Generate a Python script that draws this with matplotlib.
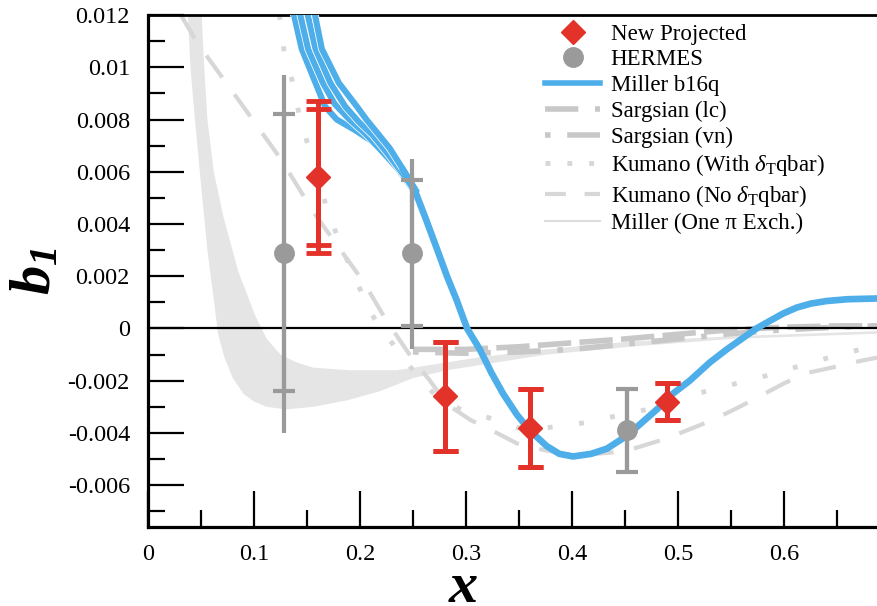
"""
b1 of the deuteron vs x: projected points, HERMES data and model curves
"""
import numpy as np
import matplotlib.pyplot as plt
import matplotlib.patheffects as pe
from matplotlib.lines import Line2D
from matplotlib.ticker import FixedLocator, FormatStrFormatter

plt.rcParams['font.family'] = 'Liberation Serif'
plt.rcParams['mathtext.fontset'] = 'custom'
plt.rcParams['mathtext.rm'] = 'Liberation Serif'
plt.rcParams['mathtext.it'] = 'Liberation Serif:italic'
plt.rcParams['mathtext.bf'] = 'Liberation Serif:bold:italic'
plt.rcParams['axes.unicode_minus'] = False

#######
# data
#######
# new projected points (stat and total errors)
proj_x = [0.16, 0.28, 0.36, 0.49]
proj_y = [0.0058, -0.0026, -0.0038, -0.0028]
proj_stat = [0.0026, 0.0021, 0.0015, 0.0007]
proj_tot = [0.0029, 0.0021, 0.0015, 0.0007]

# HERMES
herm_x = [0.128, 0.249, 0.452]
herm_y = [0.0029, 0.0029, -0.0039]
herm_stat = [0.0053, 0.0028, 0.0016]
herm_tot_lo = [0.0069, 0.0037, 0.0016]
herm_tot_hi = [0.0068, 0.0036, 0.0016]

# Miller b16q: four branches at small x, then one curve
b16q_br1_x = [0.136, 0.145, 0.158, 0.167, 0.178, 0.195, 0.210, 0.224, 0.238, 0.251]
b16q_br1_y = [0.0123, 0.0107, 0.0094, 0.0085, 0.0080, 0.0076, 0.0072, 0.0067, 0.0061, 0.0052]
b16q_br2_x = [0.142, 0.151, 0.165, 0.176, 0.190, 0.204, 0.218, 0.236, 0.252]
b16q_br2_y = [0.0123, 0.0107, 0.0094, 0.0086, 0.0080, 0.0075, 0.0069, 0.0061, 0.0052]
b16q_br3_x = [0.149, 0.158, 0.172, 0.186, 0.199, 0.212, 0.224, 0.239, 0.253]
b16q_br3_y = [0.0123, 0.0107, 0.0094, 0.0085, 0.0079, 0.0074, 0.0068, 0.0060, 0.0052]
b16q_br4_x = [0.156, 0.164, 0.180, 0.197, 0.206, 0.216, 0.228, 0.242, 0.254]
b16q_br4_y = [0.0123, 0.0107, 0.0094, 0.0085, 0.0080, 0.0075, 0.0069, 0.0060, 0.0052]

b16q_x = [0.240, 0.2525, 0.262, 0.273, 0.282, 0.291, 0.301, 0.313, 0.324, 0.335,
          0.348, 0.360, 0.368, 0.376, 0.388, 0.401, 0.418, 0.433, 0.452, 0.466,
          0.480, 0.495, 0.511, 0.530, 0.546, 0.560, 0.574, 0.587, 0.599, 0.612,
          0.625, 0.640, 0.660, 0.690]
b16q_y = [0.0061, 0.0052, 0.0042, 0.0030, 0.0020, 0.0011, 0.0000, -0.0008, -0.0017, -0.0025,
          -0.0033, -0.0039, -0.0042, -0.0045, -0.0048, -0.0049, -0.0048, -0.0046, -0.0041, -0.0036,
          -0.0031, -0.0025, -0.0020, -0.0013, -0.0008, -0.0004, 0.0000, 0.0003, 0.00057, 0.0008,
          0.00095, 0.00105, 0.00112, 0.00115]

# Sargsian
sarg_x = [0.25, 0.30, 0.35, 0.40, 0.45, 0.50, 0.55, 0.60, 0.65, 0.69]
sarg_lc_y = [-0.0008, -0.0008, -0.0007, -0.00055, -0.0004, -0.00022, -0.00005, 0.00005, 0.0001, 0.0001]
sarg_vn_y = [-0.0009, -0.00095, -0.0009, -0.0008, -0.0006, -0.0004, -0.0002, -0.00005, 0.00005, 0.0001]

# Kumano with delta_T qbar
kum_w_x = [0.124, 0.129, 0.136, 0.143, 0.154, 0.171, 0.190, 0.209, 0.219, 0.231,
           0.244, 0.260, 0.275, 0.300, 0.320, 0.348, 0.376, 0.414, 0.436, 0.471,
           0.508, 0.546, 0.584, 0.622, 0.656, 0.690]
kum_w_y = [0.0120, 0.0104, 0.0095, 0.0081, 0.0066, 0.0043, 0.0024, 0.0007, 0.0000, -0.0006,
           -0.0013, -0.0021, -0.0027, -0.0032, -0.0034, -0.0038, -0.0038, -0.0036, -0.0034, -0.0031,
           -0.0026, -0.0022, -0.0018, -0.00135, -0.00096, -0.00063]

# Kumano no delta_T qbar
kum_n_x = [0.031, 0.047, 0.088, 0.125, 0.157, 0.187, 0.203, 0.222, 0.235, 0.250,
           0.266, 0.282, 0.304, 0.329, 0.348, 0.367, 0.392, 0.423, 0.450, 0.490,
           0.533, 0.558, 0.577, 0.600, 0.622, 0.645, 0.665, 0.690]
kum_n_y = [0.0120, 0.0109, 0.0086, 0.0065, 0.0044, 0.0027, 0.0018, 0.0005, -0.0003, -0.0012,
           -0.0020, -0.0029, -0.0035, -0.0040, -0.0044, -0.0046, -0.0048, -0.0048, -0.0047, -0.0042,
           -0.0035, -0.0030, -0.0026, -0.0021, -0.0017, -0.0015, -0.0013, -0.0011]

# Miller one pion exchange band
pi_up_x = [0.050, 0.053, 0.056, 0.062, 0.071, 0.085, 0.101, 0.112, 0.125, 0.140,
           0.156, 0.190, 0.235, 0.313, 0.376, 0.455, 0.550, 0.690]
pi_up_y = [0.0125, 0.0100, 0.0080, 0.0060, 0.0043, 0.0022, 0.0005, -0.0004, -0.0010, -0.0013,
           -0.0015, -0.0016, -0.0016, -0.0011, -0.0008, -0.0005, -0.0003, -0.0001]
pi_lo_x = [0.037, 0.040, 0.044, 0.050, 0.056, 0.063, 0.066, 0.072, 0.080, 0.090,
           0.100, 0.112, 0.130, 0.156, 0.188, 0.219, 0.250, 0.282, 0.313, 0.376,
           0.455, 0.550, 0.690]
pi_lo_y = [0.0125, 0.0100, 0.0081, 0.0055, 0.0030, 0.0008, -0.0002, -0.0011, -0.0019, -0.0025,
           -0.0028, -0.0030, -0.0031, -0.0030, -0.00275, -0.0024, -0.0019, -0.0016, -0.0014, -0.0010,
           -0.0007, -0.0004, -0.0002]

x_major = [0, 0.1, 0.2, 0.3, 0.4, 0.5, 0.6]
x_minor = [0.05, 0.15, 0.25, 0.35, 0.45, 0.55, 0.65]
y_major = [-0.006, -0.004, -0.002, 0, 0.002, 0.004, 0.006, 0.008, 0.01, 0.012]
y_minor = [-0.007, -0.005, -0.003, -0.001, 0.001, 0.003, 0.005, 0.007, 0.009, 0.011]

#######
# plot
#######
red = '#e2322a'
grey = '#9a9a9a'
blue = '#4daeea'
light = '#d7d7d7'
sarg_c = '#c8c8c8'

fig = plt.figure(figsize=(8.77, 6.06), dpi=100)
ax = fig.add_axes([0.1688, 0.1304, 0.8312, 0.8448])

# one pion band
ax.fill(pi_up_x + pi_lo_x[::-1], pi_up_y + pi_lo_y[::-1], color='#e5e5e5', lw=0, zorder=1)

# Kumano and Sargsian
ax.plot(kum_n_x, kum_n_y, color=light, lw=3, dashes=(6.5, 5), zorder=2)
ax.plot(kum_w_x, kum_w_y, color=light, lw=3.5, dashes=(1, 5.5), zorder=2)
ax.plot(sarg_x, sarg_lc_y, color=sarg_c, lw=4, dashes=(6, 1.5), zorder=2)
ax.plot(sarg_x, sarg_vn_y, color=sarg_c, lw=4, dashes=(1, 3, 6, 3), zorder=2)

ax.axhline(0, color='black', lw=1.6, zorder=2.5)

# Miller b16q band
stroke = [pe.Stroke(linewidth=5.5, foreground='white'), pe.Normal()]
for bx, by in [(b16q_br1_x, b16q_br1_y), (b16q_br2_x, b16q_br2_y),
               (b16q_br3_x, b16q_br3_y), (b16q_br4_x, b16q_br4_y)]:
    ax.plot(bx, by, color=blue, lw=4.4, zorder=3, path_effects=stroke,
            solid_capstyle='butt')
ax.plot(b16q_x, b16q_y, color=blue, lw=4.8, zorder=3.2, solid_capstyle='round')

# HERMES
ax.vlines(herm_x, np.array(herm_y) - np.array(herm_tot_lo), np.array(herm_y) + np.array(herm_tot_hi),
          color=grey, lw=3, zorder=4)
ax.errorbar(herm_x, herm_y, yerr=herm_stat, fmt='o', color=grey, ms=14, elinewidth=3,
            capsize=8, capthick=3, zorder=4)

# projected
ax.errorbar(proj_x, proj_y, yerr=proj_tot, fmt='none', ecolor=red, elinewidth=3.5,
            capsize=9, capthick=3.5, zorder=5)
ax.errorbar(proj_x, proj_y, yerr=proj_stat, fmt='D', color=red, ms=12, elinewidth=3.5,
            capsize=9, capthick=3.5, zorder=5)

ax.set_xlim(0, 0.6877)
ax.set_ylim(-0.0076, 0.012)

ax.xaxis.set_major_locator(FixedLocator(x_major))
ax.xaxis.set_minor_locator(FixedLocator(x_minor))
ax.yaxis.set_major_locator(FixedLocator(y_major))
ax.yaxis.set_minor_locator(FixedLocator(y_minor))
ax.xaxis.set_major_formatter(FormatStrFormatter('%g'))
ax.yaxis.set_major_formatter(FormatStrFormatter('%g'))

ax.tick_params(which='both', direction='in', top=False, right=False, width=1.6,
               labelsize=17.5, color='black')
ax.tick_params(which='major', length=26)
ax.tick_params(which='minor', length=12.5)
ax.tick_params(axis='x', which='major', pad=12)
ax.tick_params(axis='y', which='major', pad=13)

ax.spines['right'].set_visible(False)
ax.spines['left'].set_linewidth(2.3)
ax.spines['bottom'].set_linewidth(2.3)
ax.spines['top'].set_linewidth(2.0)

ax.set_xlabel('x', fontsize=42, fontweight='bold', fontstyle='italic', va='baseline')
ax.xaxis.set_label_coords(0.432, -0.146)
ax.set_ylabel(r'$\mathbf{b}_\mathbf{1}$', fontsize=42, va='center')
ax.yaxis.set_label_coords(-0.153, 0.50)

# legend
handles = [
    Line2D([], [], ls='none', marker='D', color=red, ms=12),
    Line2D([], [], ls='none', marker='o', color=grey, ms=14),
    Line2D([], [], color=blue, lw=4),
    Line2D([], [], color=sarg_c, lw=4, dashes=(6, 3)),
    Line2D([], [], color=sarg_c, lw=4, dashes=(1, 3, 6, 3)),
    Line2D([], [], color=light, lw=3.5, dashes=(1, 3.5)),
    Line2D([], [], color=light, lw=3, dashes=(5, 4.5)),
    Line2D([], [], color='#dddddd', lw=1.5),
]
labels = ['New Projected', 'HERMES', 'Miller b16q', 'Sargsian (lc)', 'Sargsian (vn)',
          r'Kumano (With $\delta_{\mathrm{T}}$qbar)', r'Kumano (No $\delta_{\mathrm{T}}$qbar)',
          'Miller (One \u03c0 Exch.)']
ax.legend(handles, labels, loc='upper left', bbox_to_anchor=(0.545, 0.983), frameon=False,
          fontsize=16.5, handlelength=2.4, handletextpad=0.45, labelspacing=0.2,
          borderpad=0, borderaxespad=0, numpoints=1)

plt.savefig('out.png', dpi=100)
